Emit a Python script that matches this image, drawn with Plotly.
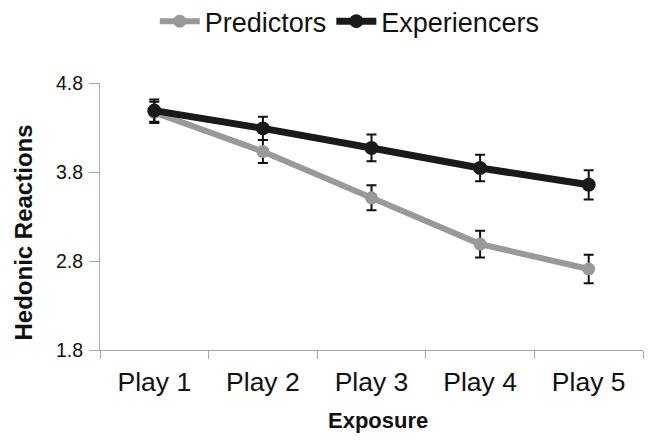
import plotly.graph_objects as go

categories = ["Play 1", "Play 2", "Play 3", "Play 4", "Play 5"]
predictors = [4.47, 4.03, 3.51, 2.99, 2.71]
predictors_err = [0.12, 0.13, 0.14, 0.15, 0.16]
experiencers = [4.49, 4.29, 4.07, 3.845, 3.656]
experiencers_err = [0.125, 0.13, 0.15, 0.15, 0.165]
y_ticks = [1.8, 2.8, 3.8, 4.8]

FONT = "Liberation Sans, Arial, sans-serif"

fig = go.Figure()
fig.add_trace(go.Scatter(
    x=categories, y=predictors, name="Predictors", mode="lines+markers",
    line=dict(color="#999999", width=6),
    marker=dict(color="#999999", size=13),
    error_y=dict(type="data", array=predictors_err, color="#111111", thickness=2, width=5),
))
fig.add_trace(go.Scatter(
    x=categories, y=experiencers, name="Experiencers", mode="lines+markers",
    line=dict(color="#1a1a1a", width=7),
    marker=dict(color="#1a1a1a", size=14),
    error_y=dict(type="data", array=experiencers_err, color="#111111", thickness=2, width=5),
))

fig.update_layout(
    width=648, height=440,
    margin=dict(l=100, r=5, t=83, b=90, autoexpand=False),
    paper_bgcolor="white", plot_bgcolor="white",
    font=dict(family=FONT, color="#111111"),
    showlegend=True,
    legend=dict(orientation="h", x=0.46, xanchor="center", y=1.23, yanchor="middle",
                font=dict(size=27, family=FONT), itemwidth=40, tracegroupgap=0),
    xaxis=dict(
        type="category", range=[-0.5, 4.5], showline=True, linecolor="#a6a6a6", linewidth=1,
        ticks="outside", tickson="boundaries", ticklen=8, tickcolor="#a6a6a6",
        ticklabelstandoff=8,
        tickfont=dict(size=26.5, family=FONT, color="#111111"), showgrid=False, zeroline=False,
    ),
    yaxis=dict(
        range=[1.8, 4.8], tickvals=y_ticks, ticktext=[f"{v:.1f}" for v in y_ticks],
        showline=True, linecolor="#a6a6a6", linewidth=1,
        ticks="outside", ticklen=10, tickcolor="#a6a6a6",
        ticklabelstandoff=2,
        tickfont=dict(size=19.5, family=FONT, color="#111111"), showgrid=False, zeroline=False,
    ),
    annotations=[
        dict(text="<b>Hedonic Reactions</b>", textangle=-90, xref="paper", yref="paper",
             x=-0.14, y=0.44, xanchor="center", yanchor="middle", showarrow=False,
             font=dict(size=24, family=FONT, color="#111111")),
        dict(text="<b>Exposure</b>", xref="paper", yref="paper",
             x=0.512, y=-0.265, xanchor="center", yanchor="middle", showarrow=False,
             font=dict(size=22, family=FONT, color="#111111")),
    ],
)

fig.write_html("out.html", config={"displayModeBar": False},
               post_script="document.body.style.margin='0px';")
